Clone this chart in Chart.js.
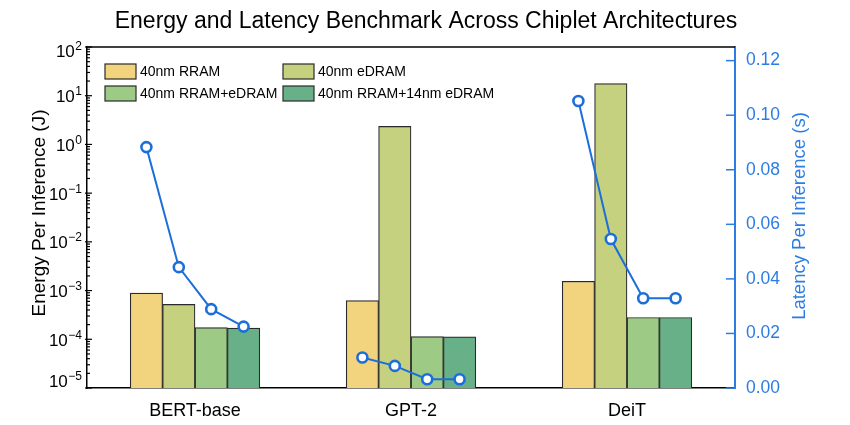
<!DOCTYPE html>
<html>
<head>
<meta charset="utf-8">
<script src="https://cdn.jsdelivr.net/npm/chart.js@4.4.1/dist/chart.umd.min.js"></script>
<style>
html,body{margin:0;padding:0;background:#fff;}
#wrap{width:850px;height:425px;position:relative;}
</style>
</head>
<body>
<div id="wrap"><canvas id="c" width="850" height="425"></canvas></div>
<script>
const categories = ['BERT-base', 'GPT-2', 'DeiT'];
const seriesNames = ['40nm RRAM', '40nm eDRAM', '40nm RRAM+eDRAM', '40nm RRAM+14nm eDRAM'];
const energyRRAM = [8.9e-4, 6.2e-4, 1.55e-3];
const energyEDRAM = [5.2e-4, 2.35, 17.8];
const energyRRAMeDRAM = [1.74e-4, 1.14e-4, 2.8e-4];
const energyRRAM14 = [1.69e-4, 1.12e-4, 2.8e-4];
const latencyBERT = [0.0883, 0.0443, 0.0289, 0.0225];
const latencyGPT2 = [0.0112, 0.0081, 0.0032, 0.0032];
const latencyDeiT = [0.1052, 0.0546, 0.0329, 0.0329];
const energyTicks = [-5, -4, -3, -2, -1, 0, 1, 2];
const latencyTickLabels = ['0.00', '0.02', '0.04', '0.06', '0.08', '0.10', '0.12'];

const barColors = ['#F2D47E', '#C5D17E', '#9DCB85', '#68B088'];
const blue = '#1C6FDA';
const axisBlue = '#2B7DE3';
const groupFrac = 0.6;
const FONT = '"Liberation Sans", Arial, Helvetica, sans-serif';

const energySeries = [energyRRAM, energyEDRAM, energyRRAMeDRAM, energyRRAM14];
const latencySeries = [latencyBERT, latencyGPT2, latencyDeiT];
const nb = energySeries.length;
const slot = (j) => (j - (nb - 1) / 2) * (groupFrac / nb);

const datasets = [];
energySeries.forEach((vals, j) => {
  datasets.push({
    type: 'bar', label: seriesNames[j],
    data: vals.map((v, i) => ({ x: i + slot(j), y: v })),
    backgroundColor: barColors[j], borderColor: '#2a2a2a', borderWidth: 1.2,
    xAxisID: 'x', yAxisID: 'y', grouped: false,
    categoryPercentage: 1.0, barPercentage: 1.0, order: 2
  });
});
latencySeries.forEach((vals, i) => {
  datasets.push({
    type: 'line', label: 'latency ' + categories[i],
    data: vals.map((v, j) => ({ x: i + slot(j), y: v })),
    xAxisID: 'x', yAxisID: 'y2', borderColor: blue, borderWidth: 2,
    pointRadius: 5, pointBorderWidth: 2.6, pointBackgroundColor: '#fff', pointBorderColor: blue,
    fill: false, tension: 0, order: 0
  });
});

const customDraw = {
  id: 'customDraw',
  afterDraw(chart) {
    const ctx = chart.ctx;
    const ca = chart.chartArea;
    const ys = chart.scales.y, y2 = chart.scales.y2;
    ctx.save();
    // top border
    ctx.strokeStyle = '#000'; ctx.lineWidth = 1.5;
    ctx.beginPath(); ctx.moveTo(ca.left, ca.top); ctx.lineTo(ca.right, ca.top); ctx.stroke();
    // left inward ticks
    ctx.lineWidth = 1.2;
    energyTicks.forEach((e, k) => {
      const yp = ys.getPixelForValue(Math.pow(10, e));
      ctx.beginPath(); ctx.moveTo(ca.left - 2, yp); ctx.lineTo(ca.left + 5, yp); ctx.stroke();
      if (k < energyTicks.length - 1) {
        for (let m = 2; m <= 9; m++) {
          const ym = ys.getPixelForValue(m * Math.pow(10, e));
          ctx.beginPath(); ctx.moveTo(ca.left, ym); ctx.lineTo(ca.left + 3, ym); ctx.stroke();
        }
      }
    });
    // left tick labels 10^n
    ctx.fillStyle = '#000';
    ctx.textBaseline = 'alphabetic';
    energyTicks.forEach((e, k) => {
      const yp = ys.getPixelForValue(Math.pow(10, e));
      let base = yp + 6.5;
      if (k === energyTicks.length - 1) base = yp + 10;
      if (k === 0) base = yp - 1;
      const expStr = e < 0 ? '\u2212' + Math.abs(e) : String(e);
      ctx.font = '12px ' + FONT;
      const ew = ctx.measureText(expStr).width;
      ctx.textAlign = 'right';
      ctx.fillText(expStr, 82, base - 7);
      ctx.font = '17px ' + FONT;
      ctx.fillText('10', 82 - ew - 0.5, base);
    });
    // right inward ticks
    ctx.strokeStyle = axisBlue; ctx.lineWidth = 1.5;
    y2.ticks.forEach(t => {
      const yp = y2.getPixelForValue(t.value);
      ctx.beginPath(); ctx.moveTo(ca.right - 9, yp); ctx.lineTo(ca.right, yp); ctx.stroke();
    });
    // title
    ctx.fillStyle = '#000';
    ctx.font = '23px ' + FONT;
    ctx.textAlign = 'center'; ctx.textBaseline = 'middle';
    ctx.fillText('Energy and Latency Benchmark Across Chiplet Architectures', 426, 22);
    // axis titles
    ctx.font = '19px ' + FONT;
    ctx.save(); ctx.translate(40, 213); ctx.rotate(-Math.PI / 2);
    ctx.fillText('Energy Per Inference (J)', 0, 0); ctx.restore();
    ctx.fillStyle = axisBlue;
    ctx.font = '18.5px ' + FONT;
    ctx.save(); ctx.translate(800, 216); ctx.rotate(-Math.PI / 2);
    ctx.fillText('Latency Per Inference (s)', 0, 0); ctx.restore();
    // legend
    const boxes = [[105, 64], [283, 64], [105, 86], [283, 86]];
    ctx.font = '14px ' + FONT; ctx.textAlign = 'left'; ctx.textBaseline = 'middle';
    seriesNames.forEach((n, j) => {
      const [bx, by] = boxes[j];
      ctx.fillStyle = barColors[j];
      ctx.fillRect(bx, by, 31, 15);
      ctx.strokeStyle = '#2a2a2a'; ctx.lineWidth = 1.2;
      ctx.strokeRect(bx, by, 31, 15);
      ctx.fillStyle = '#000';
      ctx.fillText(n, bx + 35, by + 8);
    });
    ctx.restore();
  }
};

new Chart(document.getElementById('c'), {
  type: 'bar',
  data: { datasets },
  options: {
    responsive: false, animation: false,
    layout: { padding: { left: 0, right: 0, top: 47, bottom: 0 } },
    plugins: { legend: { display: false }, tooltip: { enabled: false }, title: { display: false } },
    scales: {
      x: {
        type: 'linear', position: 'bottom', min: -0.5, max: 2.5, offset: false,
        grid: { display: false },
        border: { display: true, color: '#000', width: 1.5 },
        afterBuildTicks(s) { s.ticks = categories.map((c, i) => ({ value: i })); },
        ticks: {
          color: '#000', font: { size: 18, family: FONT }, padding: 4,
          autoSkip: false, maxRotation: 0,
          callback: (v) => categories[Math.round(v)]
        },
        afterFit(s) { s.height = 37; }
      },
      y: {
        type: 'logarithmic', position: 'left', min: 1e-5, max: 100,
        grid: { display: false },
        border: { display: true, color: '#000', width: 1.5 },
        ticks: { display: false },
        afterFit(s) { s.width = 87; }
      },
      y2: {
        type: 'linear', position: 'right', min: 0, max: 0.125,
        grid: { display: true, drawOnChartArea: false, drawTicks: false },
        border: { display: true, color: axisBlue, width: 2 },
        ticks: {
          stepSize: 0.02, includeBounds: false, color: axisBlue, padding: 11,
          font: { size: 17.5, family: FONT },
          callback: (v) => latencyTickLabels[Math.round(v / 0.02)]
        },
        afterFit(s) { s.width = 115; }
      }
    }
  },
  plugins: [customDraw]
});
</script>
</body>
</html>
